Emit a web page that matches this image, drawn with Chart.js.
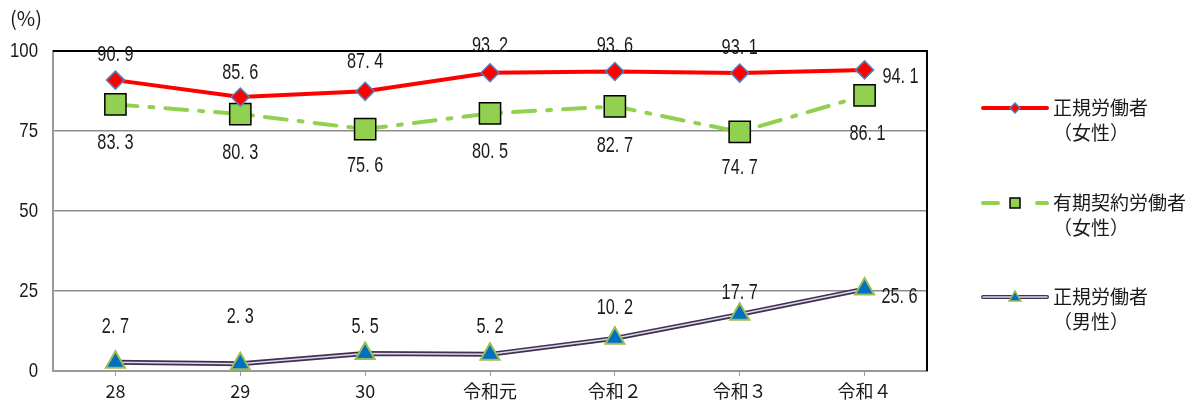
<!DOCTYPE html>
<html>
<head>
<meta charset="utf-8">
<script src="https://cdn.jsdelivr.net/npm/chart.js@4"></script>
<style>
  html, body { margin: 0; padding: 0; background: #fff; }
  #wrap { width: 1195px; height: 405px; position: relative; }
</style>
</head>
<body>
<div id="wrap"><canvas id="chart-area" width="1195" height="405"></canvas></div>
<script>
// 年度
var years = ['28', '29', '30', '令和元', '令和２', '令和３', '令和４'];
// 取得率 (%)
var womenRegular = [90.9, 85.6, 87.4, 93.2, 93.6, 93.1, 94.1];
var womenFixedTerm = [83.3, 80.3, 75.6, 80.5, 82.7, 74.7, 86.1];
var menRegular = [2.7, 2.3, 5.5, 5.2, 10.2, 17.7, 25.6];
var yTicks = [0, 25, 50, 75, 100];

var seriesNames = [
  ['正規労働者', '（女性）'],
  ['有期契約労働者', '（女性）'],
  ['正規労働者', '（男性）']
];

// where each value label sits relative to its point [dx, dy]
var labelOffsets = [
  [[0, -25], [0, -24], [0, -29], [0, -27], [0, -26], [0, -25], [36, 7]],
  [[0, 38], [0, 39], [0, 37], [0, 39], [0, 40], [0, 36], [3, 38]],
  [[0, -35], [0, -47], [0, -26], [0, -27], [0, -30], [0, -21], [35, 8]]
];

var jpFont = '"Noto Sans CJK JP", sans-serif';
var textColor = '#1a1a1a';

// condensed text: draw wide, squeeze horizontally
function drawNarrow(ctx, text, x, y, align, font, sx) {
  ctx.save();
  ctx.font = font;
  ctx.textAlign = align;
  ctx.textBaseline = 'middle';
  ctx.translate(x, y);
  ctx.scale(sx, 1);
  ctx.fillText(text, 0, 0);
  ctx.restore();
}

var valueLabels = {
  id: 'valueLabels',
  afterDatasetsDraw: function (chart) {
    var ctx = chart.ctx;
    ctx.save();
    ctx.fillStyle = textColor;
    [0, 1, 3].forEach(function (di, k) {
      var meta = chart.getDatasetMeta(di);
      var values = chart.data.datasets[di].data;
      meta.data.forEach(function (pt, i) {
        var off = labelOffsets[k][i];
        // period gets a wider cell, like a fixed-pitch face
        var text = values[i].toFixed(1).replace('.', '. ');
        drawNarrow(ctx, text, pt.x + off[0], pt.y + off[1], 'center',
          '22px "Liberation Sans", sans-serif', 0.74);
      });
    });
    ctx.restore();
  }
};

// black frame on top and right, y tick labels, "(%)" unit, legend on the right
var frameAndLegend = {
  id: 'frameAndLegend',
  beforeDatasetsDraw: function (chart) {
    var a = chart.chartArea, ctx = chart.ctx;
    ctx.save();
    ctx.strokeStyle = '#000';
    ctx.lineWidth = 2;
    ctx.beginPath();
    ctx.moveTo(a.left, a.top);
    ctx.lineTo(a.right, a.top);
    ctx.lineTo(a.right, a.bottom);
    ctx.stroke();
    ctx.restore();
  },
  afterDraw: function (chart) {
    var ctx = chart.ctx;
    var yScale = chart.scales.y;
    ctx.save();
    ctx.fillStyle = textColor;
    yTicks.forEach(function (v) {
      drawNarrow(ctx, String(v), 38, yScale.getPixelForValue(v), 'right',
        '21px "Liberation Sans", sans-serif', 0.8);
    });

    ctx.font = '20px ' + jpFont;
    ctx.textBaseline = 'middle';
    ctx.textAlign = 'left';
    ctx.fillText('(%)', 10, 18);

    var x0 = 983, x1 = 1047, xm = 1015;
    var rows = [108, 203, 297];

    // 正規労働者（女性）
    ctx.strokeStyle = '#ff0000';
    ctx.lineWidth = 4;
    ctx.lineCap = 'round';
    ctx.beginPath(); ctx.moveTo(x0, rows[0]); ctx.lineTo(x1, rows[0]); ctx.stroke();
    ctx.fillStyle = '#ff0000';
    ctx.strokeStyle = '#4f81bd';
    ctx.lineWidth = 1.5;
    ctx.beginPath();
    ctx.moveTo(xm, rows[0] - 5); ctx.lineTo(xm + 5, rows[0]);
    ctx.lineTo(xm, rows[0] + 5); ctx.lineTo(xm - 5, rows[0]);
    ctx.closePath(); ctx.fill(); ctx.stroke();

    // 有期契約労働者（女性）
    ctx.strokeStyle = '#92d050';
    ctx.lineWidth = 4;
    ctx.beginPath();
    ctx.moveTo(x0, rows[1]); ctx.lineTo(x0 + 15, rows[1]);
    ctx.moveTo(x1 - 10, rows[1]); ctx.lineTo(x1, rows[1]);
    ctx.stroke();
    ctx.fillStyle = '#92d050';
    ctx.strokeStyle = '#000';
    ctx.lineWidth = 1.5;
    ctx.fillRect(xm - 5, rows[1] - 5, 10, 10);
    ctx.strokeRect(xm - 5, rows[1] - 5, 10, 10);

    // 正規労働者（男性）
    ctx.strokeStyle = '#403152';
    ctx.lineWidth = 4;
    ctx.beginPath(); ctx.moveTo(x0, rows[2]); ctx.lineTo(x1, rows[2]); ctx.stroke();
    ctx.strokeStyle = '#ddd8e8';
    ctx.lineWidth = 1.5;
    ctx.beginPath(); ctx.moveTo(x0, rows[2]); ctx.lineTo(x1, rows[2]); ctx.stroke();
    ctx.fillStyle = '#0070c0';
    ctx.strokeStyle = '#9bbb59';
    ctx.lineWidth = 1.5;
    ctx.beginPath();
    ctx.moveTo(xm, rows[2] - 6); ctx.lineTo(xm + 6, rows[2] + 4); ctx.lineTo(xm - 6, rows[2] + 4);
    ctx.closePath(); ctx.fill(); ctx.stroke();

    ctx.fillStyle = textColor;
    ctx.font = '19px ' + jpFont;
    seriesNames.forEach(function (lines, i) {
      ctx.fillText(lines[0], 1053, rows[i]);
      ctx.fillText(lines[1], 1053, rows[i] + 25);
    });
    ctx.restore();
  }
};

function getConfig() {
  var config = {
    type: 'line',
    data: {
      labels: years,
      datasets: [{
        label: seriesNames[0].join(''),
        data: womenRegular,
        borderColor: '#ff0000',
        borderWidth: 4,
        pointStyle: 'rectRot',
        pointRadius: 9,
        pointBackgroundColor: '#ff0000',
        pointBorderColor: '#4f81bd',
        pointBorderWidth: 1.5,
        fill: false,
        order: 1
      }, {
        label: seriesNames[1].join(''),
        data: womenFixedTerm,
        borderColor: '#92d050',
        borderWidth: 4,
        borderDash: [22, 12, 4, 12],
        borderCapStyle: 'round',
        pointStyle: 'rect',
        pointRadius: 15,
        pointBackgroundColor: '#92d050',
        pointBorderColor: '#000',
        pointBorderWidth: 1.5,
        fill: false,
        order: 2
      }, {
        // dark outer stroke of the men's line
        label: 'outline',
        data: menRegular,
        borderColor: '#403152',
        borderWidth: 5,
        pointRadius: 0,
        fill: false,
        order: 4
      }, {
        label: seriesNames[2].join(''),
        data: menRegular,
        borderColor: '#ddd8e8',
        borderWidth: 1.5,
        pointStyle: 'triangle',
        pointRadius: 11,
        pointBackgroundColor: '#0070c0',
        pointBorderColor: '#9bbb59',
        pointBorderWidth: 2,
        fill: false,
        order: 3
      }]
    },
    options: {
      responsive: false,
      animation: false,
      events: [],
      layout: { padding: { top: 51, right: 268, bottom: 0, left: 0 } },
      plugins: { legend: { display: false }, tooltip: { enabled: false } },
      scales: {
        x: {
          offset: true,
          grid: { drawOnChartArea: false, tickLength: 5, color: '#999' },
          border: { color: '#999', width: 2 },
          ticks: { color: textColor, font: { family: jpFont, size: 18 }, padding: 4 },
          afterFit: function (s) { s.height = 34; }
        },
        y: {
          min: 0,
          max: 100,
          afterBuildTicks: function (s) { s.ticks = yTicks.map(function (v) { return { value: v }; }); },
          grid: { color: '#8c8c8c', lineWidth: 1.5, drawTicks: false },
          border: { color: '#999', width: 2 },
          ticks: { display: false },
          afterFit: function (s) { s.width = 53; }
        }
      }
    },
    plugins: [frameAndLegend, valueLabels]
  };
  return config;
}

var ctx = document.getElementById('chart-area').getContext('2d');
window.myLine = new Chart(ctx, getConfig());
</script>
</body>
</html>
